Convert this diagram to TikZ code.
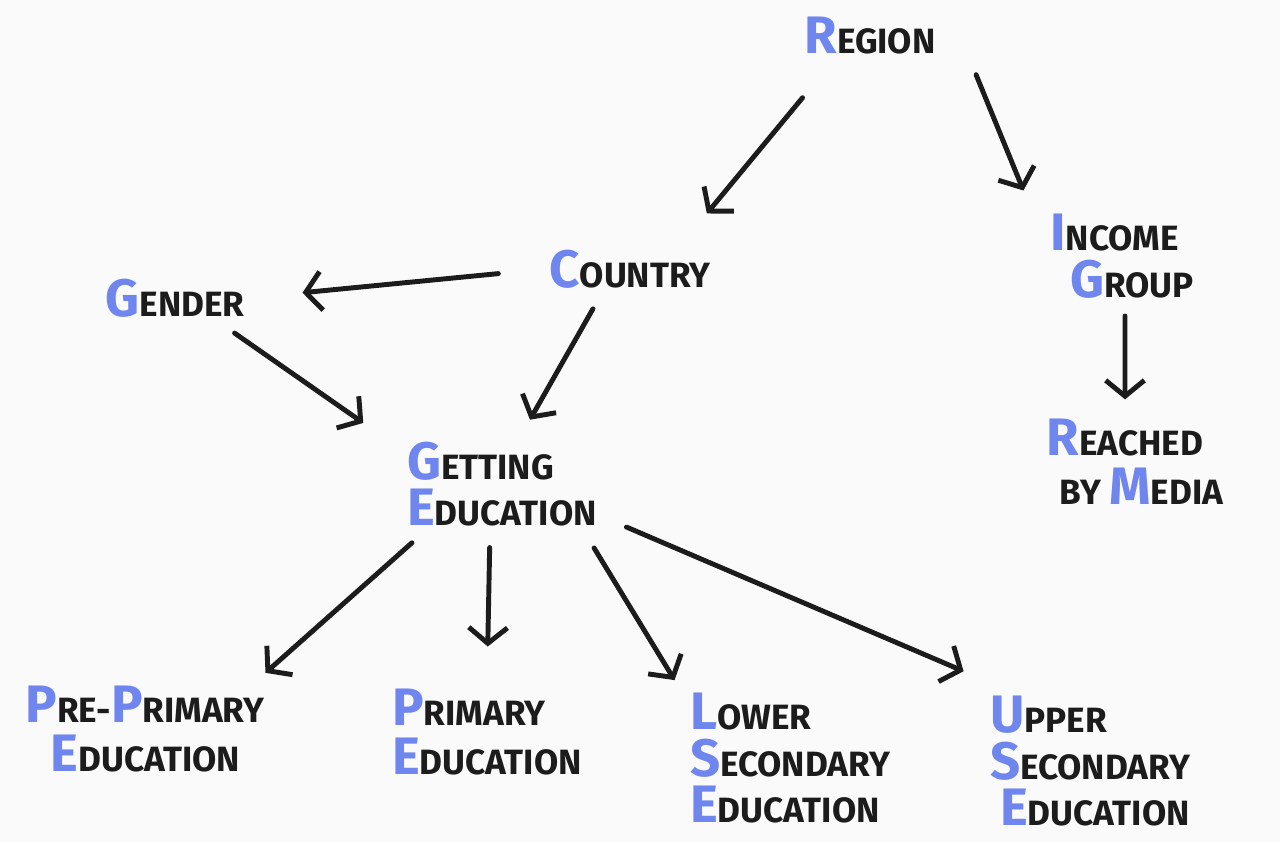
\documentclass[tikz,border=0pt]{standalone}
\usepackage{fontspec}
\setmainfont{Fira Sans}
\usetikzlibrary{arrows.meta}
\definecolor{capblue}{HTML}{6F86EE}
\definecolor{ink}{HTML}{1C1C1C}
\definecolor{paper}{HTML}{FAFAFA}
\newcommand{\hw}[2]{{\color{capblue}\fontsize{30}{32}\selectfont #1}{\fontsize{20}{22}\selectfont #2}}
\begin{document}
\begin{tikzpicture}[x=0.02cm, y=-0.02cm, every node/.style={inner sep=2pt, text=ink, align=left, font=\bfseries}]
\fill[paper] (0,0) rectangle (1280,842);
\useasboundingbox (0,0) rectangle (1280,842);
\node (region) at (870,36) {\hw{R}{EGION}};
\node (country) at (630,269) {\hw{C}{OUNTRY}};
\node (gender) at (175,298) {\hw{G}{ENDER}};
\node (income) at (1122,256) {\hw{I}{NCOME}\\[4pt]\hspace{0.4cm}\hw{G}{ROUP}};
\node (reached) at (1135,462) {\hw{R}{EACHED}\\[6pt]\hspace{0.25cm}{\fontsize{20}{22}\selectfont BY }\hw{M}{EDIA}};
\node (getting) at (502,484) {\hw{G}{ETTING}\\[4pt]\hw{E}{DUCATION}};
\node (preprimary) at (145,729) {\hw{P}{RE-}\hw{P}{RIMARY}\\[6pt]\hspace{0.5cm}\hw{E}{DUCATION}};
\node (primary) at (487,732) {\hw{P}{RIMARY}\\[6pt]\hw{E}{DUCATION}};
\node (lower) at (790,758) {\hw{L}{OWER}\\[4pt]\hw{S}{ECONDARY}\\[4pt]\hw{E}{DUCATION}};
\node (upper) at (1090,761) {\hw{U}{PPER}\\[4pt]\hw{S}{ECONDARY}\\[4pt]\hspace{0.2cm}\hw{E}{DUCATION}};

\tikzset{mystyle/.style={-{Straight Barb[length=9pt,width=22pt]}, line width=2.8pt, line cap=round, draw=ink}};
\path ([xshift=-0.7cm]region.south) edge [mystyle, shorten <=29pt, shorten >=24pt] ([xshift=1cm]country.north);
\path ([xshift=0.6cm]region.south east) edge [mystyle, shorten <=10pt, shorten >=12pt] ([xshift=-0.3cm]income.north west);
\path (country.west) edge [mystyle, shorten <=27pt, shorten >=31pt] (gender.east);
\path ([xshift=-0.55cm]country.south) edge [mystyle, shorten <=11pt, shorten >=12pt] ([xshift=0.35cm]getting.north);
\path ([xshift=-0.62cm]gender.south east) edge [mystyle, shorten <=12pt, shorten >=15pt] ([xshift=-0.37cm]getting.north west);
\path ([xshift=0.06cm]income.south) edge [mystyle, shorten <=8pt, shorten >=9pt] ([xshift=-0.2cm]reached.north);

\path ([xshift=0.46cm]getting.south west) edge [mystyle, shorten <=11pt, shorten >=8pt] ([xshift=2.2cm]preprimary.north);
\path ([xshift=-0.24cm]getting.south) edge [mystyle, shorten <=10pt, shorten >=22pt] (primary.north);
\path ([xshift=-0.35cm]getting.south east) edge [mystyle, shorten <=12pt, shorten >=6pt] ([xshift=-2.2cm]lower.north);
\path ([yshift=-0.64cm]getting.east) edge [mystyle, shorten <=16pt, shorten >=14pt] ([yshift=0.22cm]upper.north west);
\end{tikzpicture}
\end{document}
